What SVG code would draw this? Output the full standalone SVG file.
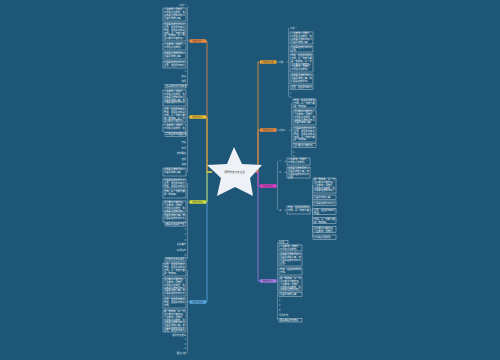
<svg xmlns="http://www.w3.org/2000/svg" width="500" height="360" viewBox="0 0 500 360">
<style>
.t{font-family:"Noto Sans CJK SC","Noto Sans",sans-serif;font-size:2.3px;fill:#f4f7fa}
.s{font-family:"Noto Sans CJK SC","Noto Sans",sans-serif;font-size:2.3px;fill:#dfe8ee}
.e{text-anchor:end}
.n{font-family:"Noto Sans CJK SC","Noto Sans",sans-serif;font-size:2.2px;fill:#333;text-anchor:middle}
.b{fill:#1e5678;stroke:#e3ebf1;stroke-width:0.4}
.lk{fill:none;stroke:#b7c9d6;stroke-width:0.4}
.tr{fill:none;stroke-width:0.8}
</style>
<rect width="500" height="360" fill="#1e5678"/>
<g id="connectors">
<path class="tr" stroke="#f08a3c" d="M212 172H207V41H206"/>
<path class="tr" stroke="#5aaae6" d="M212 172H207V302H206"/>
<path class="tr" stroke="#f2c230" d="M212 172H207V117H206"/>
<path class="tr" stroke="#d6e33c" d="M212 172H207V202H206"/>
<path class="tr" stroke="#e8a030" d="M256 172H258V62H260"/>
<path class="tr" stroke="#a47ae6" d="M256 172H258V281H260"/>
<path class="tr" stroke="#f08a3c" d="M256 172H258V130H260"/>
<path class="tr" stroke="#e23fc6" d="M256 172H258V186H260"/>
<path class="lk" d="M187.5 6V86M187.5 41H189.5M187.5 98V172M187.5 117H189.5M187.5 183V259M187.5 202H189.5M187.5 270V353M187.5 302H189.5"/>
<path class="lk" d="M276.5 62H279M286.5 62H288.5M288.5 28V97M276.5 130H279M289 130H291.5M291.5 103V156"/>
<path class="lk" d="M276.5 186H277.5M277.5 161V210M284 161.5H287M284 172.5H287M284 210H287M310 210H312.5M312.5 185V237"/>
<path class="lk" d="M276.5 281H277.5M277.5 242V320"/>
</g>
<g id="center">
<polygon points="234,147 242,164 262,165 250,178 253,196 235,187 217,196 221,178 207,165 227,164" fill="#eef2f6"/>
<text class="n" x="234.5" y="173" style="font-size:2.6px">话题作文范文大全</text>
</g>
<g id="node-l1">
<rect x="189.5" y="39.2" width="16.5" height="3.6" rx="0.5" fill="#f08a3c"/>
<text class="n" x="197.7" y="41.8">作文范文一</text>
</g>
<g id="node-l2">
<rect x="189.5" y="115.2" width="16.5" height="3.6" rx="0.5" fill="#f2c230"/>
<text class="n" x="197.7" y="117.8">作文范文二</text>
</g>
<g id="node-l3">
<rect x="189.5" y="200.2" width="16.5" height="3.6" rx="0.5" fill="#d6e33c"/>
<text class="n" x="197.7" y="202.8">作文范文三</text>
</g>
<g id="node-l4">
<rect x="189.5" y="300.2" width="16.5" height="3.6" rx="0.5" fill="#5aaae6"/>
<text class="n" x="197.7" y="302.8">作文范文四</text>
</g>
<g id="node-r1">
<rect x="260" y="60.2" width="16.5" height="3.6" rx="0.5" fill="#e8a030"/>
<text class="n" x="268.2" y="62.8">作文范文五</text>
</g>
<g id="node-r2">
<rect x="260" y="128.2" width="16.5" height="3.6" rx="0.5" fill="#f08a3c"/>
<text class="n" x="268.2" y="130.8">作文范文六</text>
</g>
<g id="node-r3">
<rect x="260" y="184.2" width="16.5" height="3.6" rx="0.5" fill="#e23fc6"/>
<text class="n" x="268.2" y="186.8">作文范文七</text>
</g>
<g id="node-r4">
<rect x="260" y="279.2" width="16.5" height="3.6" rx="0.5" fill="#a47ae6"/>
<text class="n" x="268.2" y="281.8">作文范文八</text>
</g>
<g id="leaves-l1">
<text class="s e" x="186" y="6">范文一</text>
<rect class="b" x="163" y="8" width="23" height="13"/>
<text class="t" x="164" y="10.4">人生就像一场旅行，<tspan x="164" dy="2.7">不必在乎目的地，在</tspan><tspan x="164" dy="2.7">乎的是沿途的风景以</tspan><tspan x="164" dy="2.7">及看风景的心情。</tspan></text>
<rect class="b" x="163" y="23" width="23" height="18"/>
<text class="t" x="164" y="25.4">们总是在成长中学会<tspan x="164" dy="2.7">坚强，在挫折中懂得</tspan><tspan x="164" dy="2.7">珍惜，在失败中找到</tspan><tspan x="164" dy="2.7">方向。每一次努力都</tspan><tspan x="164" dy="2.7">是一种收获，每一份</tspan><tspan x="164" dy="2.7">坚持都值得被铭记。</tspan></text>
<rect class="b" x="163" y="43" width="23" height="7"/>
<text class="t" x="164" y="45.4">人生就像一场旅行，<tspan x="164" dy="2.7">不必在乎目的地。</tspan></text>
<rect class="b" x="163" y="52" width="23" height="7"/>
<text class="t" x="164" y="54.4">乎的是沿途的风景以<tspan x="164" dy="2.7">及看风景的心情。</tspan></text>
<rect class="b" x="163" y="61" width="23" height="7"/>
<text class="t" x="164" y="63.4">们总是在成长中学会<tspan x="164" dy="2.7">坚强，在挫折中懂得</tspan></text>
<text class="s e" x="186" y="72">1</text>
<text class="s e" x="186" y="77">文章</text>
<text class="s e" x="186" y="82">结尾</text>
<rect class="b" x="165" y="84.5" width="21" height="3.5"/>
<text class="t" x="166" y="87.1">文章素材与写作技巧</text>
</g>
<g id="leaves-l2">
<rect class="b" x="163" y="90" width="23" height="16"/>
<text class="t" x="164" y="92.4">人生就像一场旅行，<tspan x="164" dy="2.7">不必在乎目的地，在</tspan><tspan x="164" dy="2.7">乎的是沿途的风景以</tspan><tspan x="164" dy="2.7">及看风景的心情。我</tspan><tspan x="164" dy="2.7">们总是在成长中学会</tspan></text>
<rect class="b" x="163" y="108" width="23" height="14"/>
<text class="t" x="164" y="110.4">坚强，在挫折中懂得<tspan x="164" dy="2.7">珍惜，在失败中找到</tspan><tspan x="164" dy="2.7">方向。每一次努力都</tspan><tspan x="164" dy="2.7">是一种收获，每一份</tspan><tspan x="164" dy="2.7">坚持都值得被铭记。</tspan></text>
<rect class="b" x="163" y="124" width="23" height="8"/>
<text class="t" x="164" y="126.4">人生就像一场旅行，<tspan x="164" dy="2.7">不必在乎目的地，在</tspan></text>
<rect class="b" x="165" y="132.8" width="21" height="3.5"/>
<text class="t" x="166" y="135.4">写作指导与思路分析</text>
<text class="s e" x="186" y="143">开头</text>
<text class="s e" x="186" y="149">中间</text>
<text class="s e" x="186" y="154">结构要点</text>
<text class="s e" x="186" y="160">结尾</text>
<text class="s e" x="186" y="165">总结</text>
<rect class="b" x="163" y="168" width="23" height="8"/>
<text class="t" x="164" y="170.4">乎的是沿途的风景以<tspan x="164" dy="2.7">及看风景的心情。</tspan></text>
</g>
<g id="leaves-l3">
<rect class="b" x="163" y="179" width="23" height="9"/>
<text class="t" x="164" y="181.4">们总是在成长中学会<tspan x="164" dy="2.7">坚强，在挫折中懂得</tspan><tspan x="164" dy="2.7">珍惜，在失败中找到</tspan></text>
<rect class="b" x="163" y="190" width="23" height="8"/>
<text class="t" x="164" y="192.4">方向。每一次努力都<tspan x="164" dy="2.7">是一种收获。</tspan></text>
<rect class="b" x="163" y="201" width="23" height="11"/>
<text class="t" x="164" y="203.4">坚持都值得被铭记。<tspan x="164" dy="2.7">人生就像一场旅行，</tspan><tspan x="164" dy="2.7">不必在乎目的地，在</tspan><tspan x="164" dy="2.7">乎的是沿途的风景。</tspan></text>
<rect class="b" x="163" y="214" width="23" height="8"/>
<text class="t" x="164" y="216.4">及看风景的心情。我<tspan x="164" dy="2.7">们总是在成长中学会</tspan></text>
<rect class="b" x="165" y="222.6" width="21" height="3.5"/>
<text class="t" x="166" y="225.2">精彩段落摘抄赏析</text>
<text class="s e" x="186" y="230">1</text>
<text class="s e" x="186" y="235">2</text>
<text class="s e" x="186" y="241">3</text>
<text class="s e" x="186" y="245">名言警句</text>
<text class="s e" x="186" y="251">好词好句</text>
<text class="s e" x="186" y="256">5</text>
<rect class="b" x="165" y="257.6" width="21" height="3.5"/>
<text class="t" x="166" y="260.2">优秀作文开头结尾</text>
</g>
<g id="leaves-l4">
<rect class="b" x="163" y="263" width="23" height="13"/>
<text class="t" x="164" y="265.4">坚强，在挫折中懂得<tspan x="164" dy="2.7">珍惜，在失败中找到</tspan><tspan x="164" dy="2.7">方向。每一次努力都</tspan><tspan x="164" dy="2.7">是一种收获。</tspan></text>
<rect class="b" x="163" y="278" width="23" height="18"/>
<text class="t" x="164" y="280.4">坚持都值得被铭记。<tspan x="164" dy="2.7">人生就像一场旅行，</tspan><tspan x="164" dy="2.7">不必在乎目的地，在</tspan><tspan x="164" dy="2.7">乎的是沿途的风景以</tspan><tspan x="164" dy="2.7">及看风景的心情。我</tspan><tspan x="164" dy="2.7">们总是在成长中学会</tspan></text>
<rect class="b" x="163" y="298" width="23" height="10"/>
<text class="t" x="164" y="300.4">坚强，在挫折中懂得<tspan x="164" dy="2.7">珍惜，在失败中找到</tspan><tspan x="164" dy="2.7">方向。</tspan></text>
<rect class="b" x="163" y="310" width="23" height="22"/>
<text class="t" x="164" y="312.4">是一种收获，每一份<tspan x="164" dy="2.7">坚持都值得被铭记。</tspan><tspan x="164" dy="2.7">人生就像一场旅行，</tspan><tspan x="164" dy="2.7">不必在乎目的地，在</tspan><tspan x="164" dy="2.7">乎的是沿途的风景以</tspan><tspan x="164" dy="2.7">及看风景的心情。我</tspan><tspan x="164" dy="2.7">们总是在成长中学会</tspan><tspan x="164" dy="2.7">坚强，在挫折中懂得</tspan></text>
<text class="s e" x="186" y="335.5">相关作文推荐</text>
<text class="s e" x="186" y="340">1</text>
<text class="s e" x="186" y="344.5">2</text>
<text class="s e" x="186" y="349">3</text>
<text class="s e" x="186" y="354">更多范文</text>
</g>
<g id="leaves-r1">
<text class="s" x="279" y="62.8">范文</text>
<text class="s" x="290" y="28.8">范文一</text>
<rect class="b" x="290" y="32" width="23" height="12"/>
<text class="t" x="291" y="34.4">人生就像一场旅行，<tspan x="291" dy="2.7">不必在乎目的地，在</tspan><tspan x="291" dy="2.7">乎的是沿途的风景以</tspan><tspan x="291" dy="2.7">及看风景的心情。</tspan></text>
<rect class="b" x="290" y="46" width="23" height="6"/>
<text class="t" x="291" y="48.4">们总是在成长中学会<tspan x="291" dy="2.7">坚强。</tspan></text>
<rect class="b" x="290" y="54" width="23" height="18"/>
<text class="t" x="291" y="56.4">珍惜，在失败中找到<tspan x="291" dy="2.7">方向。每一次努力都</tspan><tspan x="291" dy="2.7">是一种收获，每一份</tspan><tspan x="291" dy="2.7">坚持都值得被铭记。</tspan><tspan x="291" dy="2.7">人生就像一场旅行，</tspan><tspan x="291" dy="2.7">不必在乎目的地。</tspan></text>
<rect class="b" x="290" y="74" width="23" height="10"/>
<text class="t" x="291" y="76.4">乎的是沿途的风景以<tspan x="291" dy="2.7">及看风景的心情。我</tspan><tspan x="291" dy="2.7">们总是在成长中。</tspan></text>
<rect class="b" x="290" y="85.8" width="23" height="3.8"/>
<text class="t" x="291" y="88.3">坚强，在挫折中懂得</text>
<text class="s" x="290" y="94">1</text>
<text class="s" x="290" y="98">2</text>
</g>
<g id="leaves-r2">
<text class="s" x="279" y="130.8">范文二</text>
<rect class="b" x="293" y="99" width="23" height="9"/>
<text class="t" x="294" y="101.4">珍惜，在失败中找到<tspan x="294" dy="2.7">方向。每一次努力都</tspan><tspan x="294" dy="2.7">是一种收获。</tspan></text>
<rect class="b" x="293" y="110" width="23" height="15"/>
<text class="t" x="294" y="112.4">坚持都值得被铭记。<tspan x="294" dy="2.7">人生就像一场旅行，</tspan><tspan x="294" dy="2.7">不必在乎目的地，在</tspan><tspan x="294" dy="2.7">乎的是沿途的风景以</tspan><tspan x="294" dy="2.7">及看风景的心情。</tspan></text>
<rect class="b" x="293" y="127" width="23" height="15"/>
<text class="t" x="294" y="129.4">们总是在成长中学会<tspan x="294" dy="2.7">坚强，在挫折中懂得</tspan><tspan x="294" dy="2.7">珍惜，在失败中找到</tspan><tspan x="294" dy="2.7">方向。每一次努力都</tspan><tspan x="294" dy="2.7">是一种收获。</tspan></text>
<rect class="b" x="293" y="143.4" width="23" height="3.8"/>
<text class="t" x="294" y="145.9">坚持都值得被铭记。</text>
<text class="s" x="293" y="153">1</text>
<text class="s" x="293" y="157">2</text>
</g>
<g id="leaves-r3">
<text class="s" x="279" y="162.3">一</text>
<rect class="b" x="287" y="158" width="23" height="7"/>
<text class="t" x="288" y="160.4">人生就像一场旅行，<tspan x="288" dy="2.7">不必在乎目的地。</tspan></text>
<text class="s" x="279" y="173.3">二</text>
<rect class="b" x="287" y="167" width="23" height="11"/>
<text class="t" x="288" y="169.4">乎的是沿途的风景以<tspan x="288" dy="2.7">及看风景的心情。我</tspan><tspan x="288" dy="2.7">们总是在成长中学会</tspan><tspan x="288" dy="2.7">坚强。</tspan></text>
<text class="s" x="279" y="210.8">三</text>
<rect class="b" x="287" y="206" width="23" height="8"/>
<text class="t" x="288" y="208.4">珍惜，在失败中找到<tspan x="288" dy="2.7">方向。每一次努力都</tspan></text>
<rect class="b" x="313" y="178" width="23" height="15"/>
<text class="t" x="314" y="180.4">是一种收获，每一份<tspan x="314" dy="2.7">坚持都值得被铭记。</tspan><tspan x="314" dy="2.7">人生就像一场旅行，</tspan><tspan x="314" dy="2.7">不必在乎目的地，在</tspan><tspan x="314" dy="2.7">乎的是沿途的风景。</tspan></text>
<rect class="b" x="313" y="195" width="23" height="4.2"/>
<text class="t" x="314" y="197.7">及看风景的心情。</text>
<rect class="b" x="313" y="201" width="23" height="4.2"/>
<text class="t" x="314" y="203.7">们总是在成长中学会</text>
<rect class="b" x="313" y="208.5" width="23" height="6.2"/>
<text class="t" x="314" y="210.9">坚强，在挫折中懂得<tspan x="314" dy="2.7">珍惜。</tspan></text>
<rect class="b" x="313" y="217.5" width="23" height="6.2"/>
<text class="t" x="314" y="219.9">方向。每一次努力都<tspan x="314" dy="2.7">是一种收获。</tspan></text>
<rect class="b" x="313" y="226.5" width="23" height="6.2"/>
<text class="t" x="314" y="228.9">坚持都值得被铭记。<tspan x="314" dy="2.7">人生就像一场旅行。</tspan></text>
<rect class="b" x="313" y="235" width="23" height="4.2"/>
<text class="t" x="314" y="237.7">不必在乎目的地。</text>
</g>
<g id="leaves-r4">
<rect class="b" x="279" y="240.3" width="9" height="3.5"/>
<text class="s" x="279.8" y="242.9">范文</text>
<rect class="b" x="279" y="245" width="23" height="6"/>
<text class="t" x="280" y="247.4">人生就像一场旅行，<tspan x="280" dy="2.7">不必在乎目的地。</tspan></text>
<rect class="b" x="279" y="253" width="23" height="13"/>
<text class="t" x="280" y="255.4">乎的是沿途的风景以<tspan x="280" dy="2.7">及看风景的心情。我</tspan><tspan x="280" dy="2.7">们总是在成长中学会</tspan><tspan x="280" dy="2.7">坚强。</tspan></text>
<rect class="b" x="279" y="268" width="23" height="7"/>
<text class="t" x="280" y="270.4">珍惜，在失败中找到<tspan x="280" dy="2.7">方向。</tspan></text>
<rect class="b" x="279" y="277" width="23" height="14"/>
<text class="t" x="280" y="279.4">是一种收获，每一份<tspan x="280" dy="2.7">坚持都值得被铭记。</tspan><tspan x="280" dy="2.7">人生就像一场旅行，</tspan><tspan x="280" dy="2.7">不必在乎目的地，在</tspan><tspan x="280" dy="2.7">乎的是沿途的风景。</tspan></text>
<rect class="b" x="279" y="292.3" width="23" height="4"/>
<text class="t" x="280" y="294.8">及看风景的心情。</text>
<text class="s" x="279" y="301">1</text>
<text class="s" x="279" y="306">2</text>
<text class="s" x="279" y="311">3</text>
<text class="s" x="279" y="316">写作方法</text>
<rect class="b" x="279" y="318.5" width="23" height="3.5"/>
<text class="t" x="280" y="321.1">更多精彩作文推荐</text>
</g>
</svg>
